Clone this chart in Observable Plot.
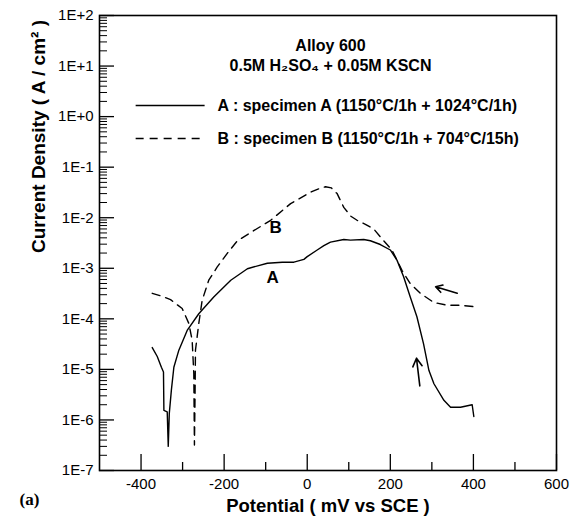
<!DOCTYPE html>
<html><head><meta charset="utf-8">
<script src="https://cdn.jsdelivr.net/npm/d3@7"></script>
<script src="https://cdn.jsdelivr.net/npm/@observablehq/plot@0.6"></script>
<style>body{margin:0;background:#fff} #chart svg{font-family:"Liberation Sans",Arial,sans-serif}</style>
</head><body><div id="chart"></div><script>
// Curve A: specimen A (solid)
const potentialA = [-373,-361,-351,-346,-345,-337,-334.5,-332,-327,-321,-309,-289,-261,-225,-184,-144,-96,-60,-32,-8,0,24,40,56,88,104,136,152,176,200,216,232,248,264,280,293,305,329,345,369,397,401];
const currentA = [2.7e-5,1.8e-5,1.1e-5,8.9e-6,1.55e-6,1.45e-6,3.0e-7,1.35e-6,3.9e-6,1.1e-5,2.4e-5,5.9e-5,1.26e-4,2.7e-4,5.8e-4,9.8e-4,1.26e-3,1.32e-3,1.32e-3,1.5e-3,1.7e-3,2.3e-3,2.8e-3,3.3e-3,3.7e-3,3.6e-3,3.7e-3,3.5e-3,2.95e-3,2.3e-3,1.45e-3,6.8e-4,2.7e-4,1.1e-4,3.2e-5,9.5e-6,5.2e-6,2.45e-6,1.78e-6,1.78e-6,2.0e-6,1.17e-6];
// Curve B: specimen B (dashed)
const potentialB = [-373,-350,-329,-301,-285,-277,-273,-271.5,-270,-269,-261,-253,-237,-217,-192,-168,-128,-88,-40,8,30,44,58,72,88,105,120,140,160,184,204,228,248,272,305,337,369,401];
const currentB = [3.2e-4,2.8e-4,2.4e-4,1.6e-4,8.1e-5,3.8e-5,8.3e-6,3.2e-7,3.2e-6,2.4e-5,8.1e-5,2.3e-4,5.8e-4,1.05e-3,2.0e-3,3.5e-3,5.6e-3,8.9e-3,1.9e-2,3.2e-2,3.8e-2,4.1e-2,3.9e-2,3.0e-2,1.6e-2,1.07e-2,8.9e-3,7.4e-3,6.0e-3,3.5e-3,2.3e-3,9.1e-4,5.0e-4,3.2e-4,2.1e-4,1.86e-4,1.86e-4,1.74e-4];

const xTickValues = [-400,-200,0,200,400,600];
const xTickLabels = ["-400","-200","0","200","400","600"];
const xMinorValues = [-300,-100,100,300,500];
const yTickValues = [1e-7,1e-6,1e-5,1e-4,1e-3,1e-2,1e-1,1e0,1e1,1e2];
const yTickLabels = ["1E-7","1E-6","1E-5","1E-4","1E-3","1E-2","1E-1","1E+0","1E+1","1E+2"];

const titleLines = ["Alloy 600", "0.5M H\u2082SO\u2084 + 0.05M KSCN"];
const legendLabels = ["A : specimen A (1150\u00B0C/1h + 1024\u00B0C/1h)", "B : specimen B (1150\u00B0C/1h + 704\u00B0C/15h)"];
const curveLabels = ["A", "B"];
const xTitle = "Potential ( mV vs SCE )";
const yTitle = "Current Density ( A / cm\u00B2 )";
const panelTag = "(a)";

// annotation anchors (data units)
const titlePos = [{x: 56, y: 25.5}, {x: 56, y: 10.3}];
const legendPos = [{x1: -413, x2: -247, xt: -216, y: 1.66}, {x1: -413, x2: -247, xt: -216, y: 0.37}];
const curveLabelPos = [{x: -83, y: 6.6e-4}, {x: -76, y: 6.5e-3}];
const arrows = [{x1: 361, y1: 3.2e-4, x2: 309, y2: 4.3e-4}, {x1: 271, y1: 4.7e-6, x2: 263, y2: 1.66e-5}];

const dataA = potentialA.map((v, i) => ({v, i: currentA[i]}));
const dataB = potentialB.map((v, i) => ({v, i: currentB[i]}));
const yMinorValues = [];
for (let e = -7; e < 2; e++) for (let m = 2; m <= 9; m++) yMinorValues.push(m * Math.pow(10, e));

// inward tick lengths expressed in data units of each scale
const xDomain = [-500, 600], yDomain = [1e-7, 1e2];
const W = 572, H = 524, mL = 99, mR = 16, mT = 15, mB = 54;
const pxPerMv = (W - mL - mR) / (xDomain[1] - xDomain[0]);
const pxPerDecade = (H - mT - mB) / 9;
const xMajorTop = yDomain[0] * Math.pow(10, 16 / pxPerDecade);
const xMinorTop = yDomain[0] * Math.pow(10, 8 / pxPerDecade);
const yMajorEnd = xDomain[0] + 15 / pxPerMv;
const yMinorEnd = xDomain[0] + 8 / pxPerMv;

const bold = {fontWeight: "bold", fill: "black"};
const plot = Plot.plot({
  width: W, height: H,
  marginLeft: mL, marginRight: mR, marginTop: mT, marginBottom: mB,
  x: {domain: xDomain},
  y: {type: "log", domain: yDomain},
  style: {fontSize: "15px", color: "black", background: "white", overflow: "visible"},
  marks: [
    Plot.axisX(xTickValues, {tickSize: 0, tickPadding: 8, fontSize: 15, label: null,
      tickFormat: d => xTickLabels[xTickValues.indexOf(d)]}),
    Plot.axisY(yTickValues, {tickSize: 0, tickPadding: 6, fontSize: 15, label: null,
      tickFormat: d => yTickLabels[yTickValues.findIndex(t => Math.abs(t - d) / t < 1e-6)]}),
    Plot.ruleX(xTickValues, {y1: yDomain[0], y2: xMajorTop, stroke: "black", strokeWidth: 1.3}),
    Plot.ruleX(xMinorValues, {y1: yDomain[0], y2: xMinorTop, stroke: "black", strokeWidth: 1.3}),
    Plot.ruleY(yTickValues, {x1: xDomain[0], x2: yMajorEnd, stroke: "black", strokeWidth: 1.3}),
    Plot.ruleY(yMinorValues, {x1: xDomain[0], x2: yMinorEnd, stroke: "black", strokeWidth: 1}),
    Plot.frame({stroke: "black", strokeWidth: 1.6}),
    Plot.line(dataA, {x: "v", y: "i", stroke: "black", strokeWidth: 1.4}),
    Plot.line(dataB, {x: "v", y: "i", stroke: "black", strokeWidth: 1.4, strokeDasharray: "8,6"}),
    Plot.arrow(arrows, {x1: "x1", y1: "y1", x2: "x2", y2: "y2", stroke: "black", strokeWidth: 1.6, headLength: 9}),
    Plot.text(curveLabels, {x: (d, i) => curveLabelPos[i].x, y: (d, i) => curveLabelPos[i].y, text: d => d, fontSize: 17, ...bold}),
    Plot.text(titleLines, {x: (d, i) => titlePos[i].x, y: (d, i) => titlePos[i].y, text: d => d, fontSize: 16, ...bold}),
    Plot.link([legendPos[0]], {x1: "x1", x2: "x2", y1: "y", y2: "y", stroke: "black", strokeWidth: 1.4}),
    Plot.link([legendPos[1]], {x1: "x1", x2: "x2", y1: "y", y2: "y", stroke: "black", strokeWidth: 1.4, strokeDasharray: "8,6"}),
    Plot.text(legendLabels, {x: (d, i) => legendPos[i].xt, y: (d, i) => legendPos[i].y, text: d => d, textAnchor: "start", fontSize: 16, ...bold}),
    Plot.text([xTitle], {text: d => d, frameAnchor: "bottom", dy: 41, fontSize: 18.5, ...bold}),
    Plot.text([yTitle], {text: d => d, frameAnchor: "left", rotate: -90, dx: -61, dy: 10, fontSize: 19, ...bold}),
    Plot.text([panelTag], {text: d => d, frameAnchor: "bottom-left", textAnchor: "start", dx: -80, dy: 34, fontSize: 17, fontFamily: "Liberation Serif", ...bold})
  ]
});
document.getElementById("chart").append(plot);
</script></body></html>
